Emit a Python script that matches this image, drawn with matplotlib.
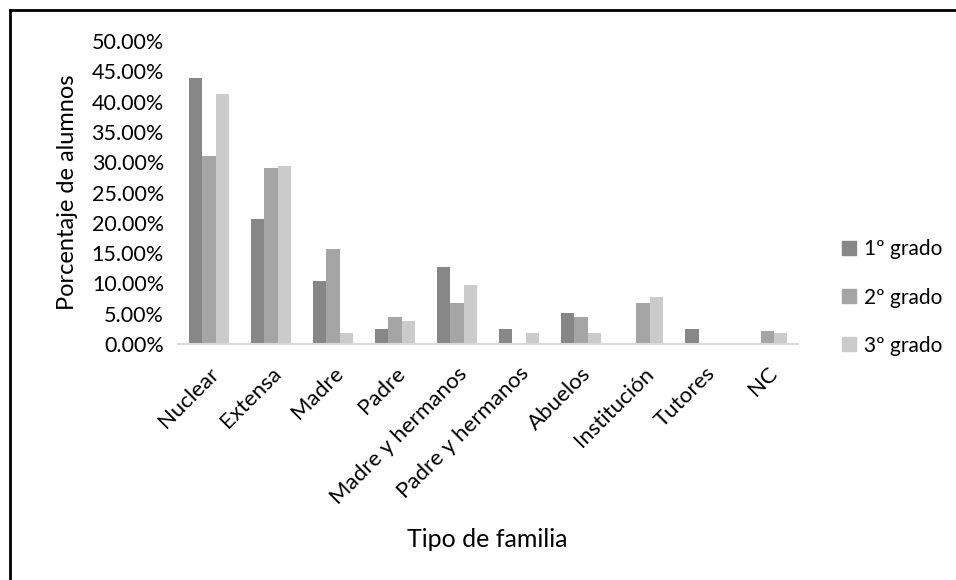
import matplotlib.pyplot as plt
import numpy as np
from matplotlib.lines import Line2D
from matplotlib.ticker import FuncFormatter

plt.rcParams['font.family'] = ['Lato', 'DejaVu Sans']

# =============== data ===============
categorias = ['Nuclear', 'Extensa', 'Madre', 'Padre', 'Madre y hermanos',
              'Padre y hermanos', 'Abuelos', 'Institución', 'Tutores', 'NC']
grado1 = [0.44, 0.206, 0.104, 0.025, 0.127, 0.025, 0.051, 0.0, 0.025, 0.0]
grado2 = [0.311, 0.291, 0.157, 0.045, 0.068, 0.0, 0.045, 0.068, 0.0, 0.021]
grado3 = [0.413, 0.294, 0.018, 0.038, 0.097, 0.018, 0.018, 0.078, 0.0, 0.018]
series = ['1º grado', '2º grado', '3º grado']
colores = ['#878787', '#a5a5a5', '#cbcbcb']

fig = plt.figure(figsize=(9.56, 5.80), dpi=100)
ax = fig.add_axes([0.186, 0.407, 0.649, 0.522])

x = np.arange(len(categorias))
w = 0.215
for i, (vals, lab, col) in enumerate(zip([grado1, grado2, grado3], series, colores)):
    ax.bar(x + (i - 1) * w, vals, width=w, color=col, label=lab)

ax.set_xlim(-0.5, len(categorias) - 0.5)
ax.set_ylim(0, 0.5)
ax.set_yticks(np.arange(0, 0.501, 0.05))
ax.yaxis.set_major_formatter(FuncFormatter(lambda v, p: '%.2f%%' % (v * 100)))
ax.set_xticks(x)
ax.set_xticklabels(categorias, rotation=45, ha='right', rotation_mode='anchor',
                   fontsize=16)
ax.tick_params(axis='both', length=0, colors='#000000')
ax.tick_params(axis='y', pad=10, labelsize=15.5)
ax.tick_params(axis='x', pad=14)

for s in ['top', 'right', 'left']:
    ax.spines[s].set_visible(False)
ax.spines['bottom'].set_color('#d9d9d9')
ax.spines['bottom'].set_linewidth(1.5)

ax.set_ylabel('Porcentaje de alumnos', fontsize=17, labelpad=10)
fig.text(0.51, 0.069, 'Tipo de familia', fontsize=18, ha='center', va='center')

handles = [Line2D([], [], marker='s', linestyle='none', markersize=10,
                  markerfacecolor=c, markeredgecolor=c) for c in colores]
fig.legend(handles, series, loc='center left', bbox_to_anchor=(0.858, 0.487),
           frameon=False, fontsize=15, labelspacing=1.35, handletextpad=0.2,
           handlelength=1.0)

# frame (only top and left visible in the original)
fig.add_artist(Line2D([0.0105, 1.0], [0.983, 0.983], transform=fig.transFigure,
                      color='black', linewidth=2))
fig.add_artist(Line2D([0.0105, 0.0105], [0.0, 0.983], transform=fig.transFigure,
                      color='black', linewidth=2))

fig.savefig('out.png', dpi=100)
